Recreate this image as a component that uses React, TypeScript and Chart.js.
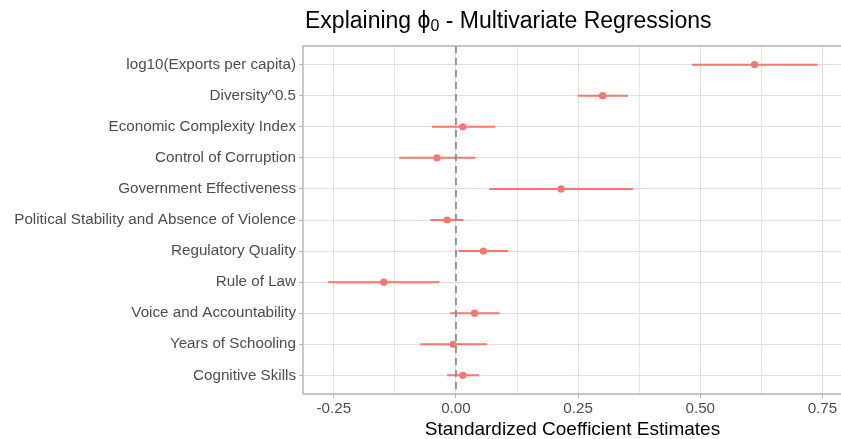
import React, { useEffect, useRef } from 'react';
import { Chart, registerables } from 'chart.js';
Chart.register(...registerables);

const variables = [
  'log10(Exports per capita)',
  'Diversity^0.5',
  'Economic Complexity Index',
  'Control of Corruption',
  'Government Effectiveness',
  'Political Stability and Absence of Violence',
  'Regulatory Quality',
  'Rule of Law',
  'Voice and Accountability',
  'Years of Schooling',
  'Cognitive Skills',
];
const estimates = [0.611, 0.300, 0.014, -0.039, 0.215, -0.018, 0.056, -0.148, 0.038, -0.006, 0.014];
const lowerCI = [0.483, 0.249, -0.049, -0.116, 0.068, -0.052, 0.005, -0.262, -0.012, -0.073, -0.018];
const upperCI = [0.740, 0.352, 0.080, 0.039, 0.362, 0.015, 0.107, -0.034, 0.089, 0.063, 0.047];
const xMajorTicks = [-0.25, 0, 0.25, 0.5, 0.75];
const xMinorTicks = [-0.125, 0.125, 0.375, 0.625];
const referenceValue = 0;
const titleMain = 'Explaining ';
const titleSymbol = 'ϕ';
const titleSub = '0';
const titleRest = ' - Multivariate Regressions';
const xAxisTitle = 'Standardized Coefficient Estimates';

const X_MIN = -0.313;
const X_MAX = 0.79;
const CANVAS_W = 846;
const FONT = '"Liberation Sans", Arial, Helvetica, sans-serif';
const RED = '#F8766D';
const isMajor = (v: number) => xMajorTicks.some((m) => Math.abs(m - v) < 1e-9);
const isMinor = (v: number) => xMinorTicks.some((m) => Math.abs(m - v) < 1e-9);

export default function App() {
  const ref = useRef<HTMLCanvasElement>(null);
  useEffect(() => {
    if (!ref.current) return;
    const errData: any[] = [];
    variables.forEach((_, i) => {
      errData.push({ x: lowerCI[i], y: i + 1 });
      errData.push({ x: upperCI[i], y: i + 1 });
      errData.push({ x: upperCI[i], y: null });
    });
    const pointData = variables.map((_, i) => ({ x: estimates[i], y: i + 1 }));

    const framePlugin = {
      id: 'frameAndTitle',
      afterDatasetsDraw(chart: any) {
        const { ctx, chartArea } = chart;
        ctx.save();
        ctx.strokeStyle = '#b3b3b3';
        ctx.lineWidth = 1.4;
        ctx.beginPath();
        ctx.moveTo(chartArea.left, chartArea.bottom);
        ctx.lineTo(chartArea.left, chartArea.top);
        ctx.lineTo(chartArea.right, chartArea.top);
        ctx.lineTo(chartArea.right, chartArea.bottom);
        ctx.lineTo(chartArea.left, chartArea.bottom);
        ctx.stroke();
        ctx.restore();
      },
      afterDraw(chart: any) {
        const { ctx, chartArea } = chart;
        ctx.save();
        ctx.fillStyle = '#000000';
        ctx.textBaseline = 'alphabetic';
        ctx.textAlign = 'left';
        let x = chartArea.left + 2;
        const y = 28;
        ctx.font = `23px ${FONT}`;
        ctx.fillText(titleMain, x, y);
        x += ctx.measureText(titleMain).width;
        ctx.fillText(titleSymbol, x, y);
        x += ctx.measureText(titleSymbol).width;
        ctx.font = `16px ${FONT}`;
        ctx.fillText(titleSub, x, y + 3);
        x += ctx.measureText(titleSub).width;
        ctx.font = `23px ${FONT}`;
        ctx.fillText(titleRest, x, y);
        ctx.restore();
      },
    };

    const chart = new Chart(ref.current, {
      type: 'scatter',
      data: {
        datasets: [
          {
            data: [
              { x: referenceValue, y: 0.4 },
              { x: referenceValue, y: 11.6 },
            ],
            showLine: true,
            borderColor: 'rgba(140,140,140,0.9)',
            borderWidth: 2,
            borderDash: [7, 5],
            pointRadius: 0,
            order: 1,
          } as any,
          {
            data: pointData,
            pointRadius: 3.6,
            backgroundColor: RED,
            borderWidth: 0,
            order: 2,
          } as any,
          {
            data: errData,
            showLine: true,
            spanGaps: false,
            borderColor: RED,
            borderWidth: 2,
            pointRadius: 0,
            order: 3,
          } as any,
        ],
      },
      options: {
        responsive: false,
        animation: false,
        layout: { padding: { top: 46, left: 0, right: 0, bottom: 0 } },
        plugins: { legend: { display: false }, tooltip: { enabled: false }, title: { display: false } },
        scales: {
          x: {
            type: 'linear',
            position: 'bottom',
            min: X_MIN,
            max: X_MAX,
            afterBuildTicks: (scale: any) => {
              scale.ticks = [...xMajorTicks, ...xMinorTicks, X_MAX].sort((a, b) => a - b).map((v) => ({ value: v }));
            },
            afterFit: (scale: any) => {
              scale.height = 45;
            },
            ticks: {
              autoSkip: false,
              maxRotation: 0,
              padding: 2,
              color: '#4d4d4d',
              font: { size: 15.2, family: FONT },
              callback: (v: any) => (isMajor(Number(v)) ? Number(v).toFixed(2) : ''),
            },
            grid: {
              color: (c: any) =>
                c.tick && isMajor(c.tick.value) ? '#dedede' : c.tick && isMinor(c.tick.value) ? '#e6e6e6' : 'rgba(0,0,0,0)',
              lineWidth: 1,
              tickLength: 4,
              tickColor: (c: any) => (c.tick && isMajor(c.tick.value) ? '#b3b3b3' : 'rgba(0,0,0,0)'),
            },
            border: { display: false },
            title: {
              display: true,
              text: xAxisTitle,
              color: '#000000',
              font: { size: 19, family: FONT },
              padding: { top: 0, bottom: -2 },
            },
          },
          y: {
            type: 'linear',
            reverse: true,
            min: 0.4,
            max: 11.6,
            afterBuildTicks: (scale: any) => {
              scale.ticks = variables.map((_, i) => ({ value: i + 1 }));
            },
            afterFit: (scale: any) => {
              scale.width = 303;
            },
            ticks: {
              autoSkip: false,
              padding: 3,
              color: '#4d4d4d',
              font: { size: 15.2, family: FONT },
              callback: (v: any) => variables[Math.round(Number(v)) - 1] ?? '',
            },
            grid: {
              color: '#dedede',
              lineWidth: 1,
              tickLength: 4,
              tickColor: '#b3b3b3',
            },
            border: { display: false },
          },
        },
      },
      plugins: [framePlugin],
    } as any);
    return () => chart.destroy();
  }, []);

  return (
    <div style={{ position: 'fixed', left: 0, top: 0, width: 841, height: 439, overflow: 'hidden', background: '#ffffff' }}>
      <canvas ref={ref} width={CANVAS_W} height={439} style={{ width: CANVAS_W, height: 439, display: 'block' }} />
    </div>
  );
}
